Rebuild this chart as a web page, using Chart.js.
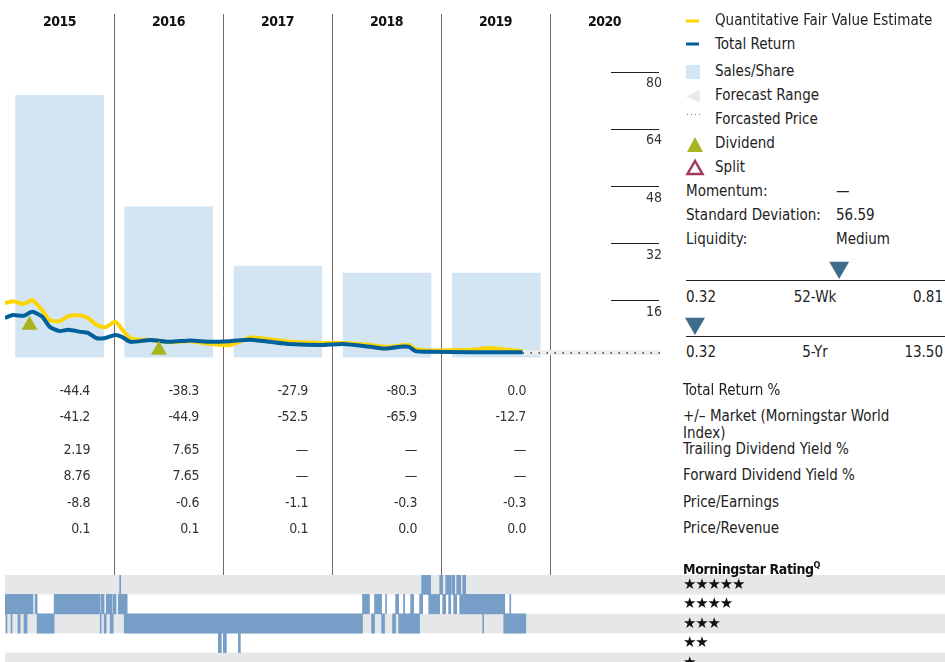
<!DOCTYPE html>
<html>
<head>
<meta charset="utf-8">
<script src="https://cdn.jsdelivr.net/npm/chart.js@4.4.1/dist/chart.umd.min.js"></script>
<style>
  body { margin: 0; width: 945px; height: 662px; overflow: hidden; background: #fff;
    font-family: "DejaVu Sans Condensed", "DejaVu Sans", sans-serif; color: #222; }
  .box { position: absolute; }
  .t { position: absolute; white-space: nowrap; line-height: 20px; }
  .yr { font-weight: bold; font-size: 14px; color: #111; width: 109px; text-align: center; letter-spacing: -0.5px; }
  .num { font-size: 14px; color: #333; width: 80px; text-align: right; letter-spacing: -0.4px; }
  .lab { font-size: 15px; color: #222; }
  .stars { font-family: "DejaVu Sans", sans-serif; font-size: 15px; color: #111; letter-spacing: -1.2px; }
</style>
</head>
<body>
<div class="box" style="left:0;top:14px;width:680px;height:561px"><canvas id="priceChart"></canvas></div>
<div class="box" style="left:0;top:575px;width:945px;height:97px"><canvas id="ratingChart"></canvas></div>
<div class="box" style="left:680px;top:255px;width:265px;height:27px"><canvas id="wkChart"></canvas></div>
<div class="box" style="left:680px;top:311px;width:265px;height:27px"><canvas id="yrChart"></canvas></div>
<svg class="box" style="left:680px;top:0" width="30" height="185">
  <rect x="6" y="19.5" width="13" height="3" fill="#fcd500"/>
  <rect x="6" y="42.5" width="13" height="3" fill="#00609c"/>
  <rect x="6" y="65" width="14" height="14" fill="#d3e4f3"/>
  <polygon points="6,96.5 20,90 20,103" fill="#e9eaec"/>
  <g fill="#777"><rect x="7" y="114" width="1" height="1"/><rect x="11" y="114" width="1" height="1"/><rect x="15" y="114" width="1" height="1"/><rect x="19" y="114" width="1" height="1"/></g>
  <polygon points="15,137 7,152 23,152" fill="#a9b520"/>
  <polygon points="15,161 7.5,174 22.5,174" fill="#fff" stroke="#a3395f" stroke-width="2.5"/>
</svg>
<div id="texts"></div>
<script>
const font = '"DejaVu Sans Condensed", "DejaVu Sans", sans-serif';

// ---- data ----
const years = ['2015', '2016', '2017', '2018', '2019', '2020'];
const salesPerShare = [73.4, 42.1, 25.5, 23.6, 23.6];
const priceTicks = [16, 32, 48, 64, 80];

const lineDates = [2015.00, 2015.07, 2015.17, 2015.25, 2015.34, 2015.41, 2015.50, 2015.58, 2015.69, 2015.76,
  2015.84, 2015.92, 2016.01, 2016.07, 2016.15, 2016.33, 2016.51, 2016.70, 2016.88, 2017.06,
  2017.25, 2017.43, 2017.61, 2017.89, 2018.10, 2018.35, 2018.49, 2018.62, 2018.70, 2018.76,
  2018.90, 2019.27, 2019.45, 2019.63, 2019.74];
const fairValue = [15.1, 15.7, 14.9, 16.0, 13.2, 10.4, 10.1, 11.5, 11.7, 11.0,
  9.0, 8.4, 9.9, 7.9, 5.2, 4.8, 4.2, 4.5, 3.7, 3.4,
  5.5, 5.0, 4.3, 4.0, 4.0, 3.4, 2.9, 3.3, 3.4, 2.3,
  1.9, 2.1, 2.6, 2.0, 1.7];
const totalReturn = [11.0, 11.8, 11.6, 12.7, 11.4, 8.5, 7.3, 7.7, 7.1, 6.8,
  5.3, 5.4, 6.2, 5.7, 4.3, 4.8, 4.3, 4.7, 4.3, 4.5,
  4.9, 4.3, 3.7, 3.4, 3.7, 2.9, 2.4, 2.9, 2.9, 1.7,
  1.5, 1.4, 1.4, 1.4, 1.4];

const forecastDates = [2019.74, 2021.0];
const forecastPrice = [1.2, 1.2];
const forecastHigh = [2.0, 2.0];
const forecastLow = [0.6, 0.6];

const dividendDates = [2015.225, 2016.41];
const dividendMarks = [9.0, 2.0];

const totalReturnPct = ['-44.4', '-38.3', '-27.9', '-80.3', '0.0'];
const marketPct = ['-41.2', '-44.9', '-52.5', '-65.9', '-12.7'];
const trailingYield = ['2.19', '7.65', '—', '—', '—'];
const forwardYield = ['8.76', '7.65', '—', '—', '—'];
const priceEarnings = ['-8.8', '-0.6', '-1.1', '-0.3', '-0.3'];
const priceRevenue = ['0.1', '0.1', '0.1', '0.0', '0.0'];
const tableLabels = ['Total Return %', '+/\u2013 Market (Morningstar World Index)', 'Trailing Dividend Yield %',
  'Forward Dividend Yield %', 'Price/Earnings', 'Price/Revenue'];

const ratingRows = ['★★★★★', '★★★★', '★★★', '★★', '★'];
const fiveStarRuns = [[2016.050, 2016.060], [2018.817, 2018.899], [2018.982, 2019.009], [2019.037, 2019.083],
  [2019.092, 2019.119], [2019.138, 2019.174], [2019.193, 2019.220]];
const fourStarRuns = [[2015.000, 2015.257], [2015.275, 2015.294], [2015.450, 2015.872], [2015.881, 2015.908],
  [2015.927, 2015.982], [2015.991, 2016.018], [2016.037, 2016.119], [2018.275, 2018.339], [2018.385, 2018.450],
  [2018.486, 2018.495], [2018.578, 2018.606], [2018.651, 2018.661], [2018.716, 2018.743], [2018.798, 2018.826],
  [2018.881, 2018.982], [2019.009, 2019.037], [2019.064, 2019.083], [2019.110, 2019.138], [2019.165, 2019.578],
  [2019.624, 2019.633]];
const threeStarRuns = [[2015.009, 2015.018], [2015.055, 2015.064], [2015.119, 2015.138], [2015.174, 2015.202],
  [2015.294, 2015.450], [2015.872, 2015.881], [2015.908, 2015.927], [2015.963, 2015.991], [2016.092, 2018.275],
  [2018.358, 2018.385], [2018.450, 2018.477], [2018.550, 2018.578], [2018.606, 2018.798], [2019.376, 2019.385],
  [2019.569, 2019.771]];
const twoStarRuns = [[2016.954, 2016.982], [2017.000, 2017.028], [2017.138, 2017.156]];
const oneStarRuns = [];

const momentum = '—';
const stdDev = '56.59';
const liquidity = 'Medium';
const wkLow = 0.32, wkHigh = 0.81, wkMarker = 0.612;
const fiveLow = 0.32, fiveHigh = 13.50, fiveMarker = 0.78;

// ---- text ----
const texts = document.getElementById('texts');
function put(html, cls, left, centerY, extra) {
  const d = document.createElement('div');
  d.className = 't ' + cls;
  d.style.left = left + 'px';
  d.style.top = (centerY - 10) + 'px';
  if (extra) Object.assign(d.style, extra);
  d.innerHTML = html;
  texts.appendChild(d);
}
years.forEach((y, i) => put(y, 'yr', 5 + i * 109, 21));
const tableRows = [totalReturnPct, marketPct, trailingYield, forwardYield, priceEarnings, priceRevenue];
const rowY = [390, 416, 449, 475, 502, 528];
tableRows.forEach((row, r) => {
  row.forEach((v, i) => put(v, 'num', 10 + i * 109, rowY[r]));
});
tableLabels.forEach((l, r) => {
  if (r === 1) put(l, 'lab', 683, rowY[r], { whiteSpace: 'normal', width: '225px', lineHeight: '17px', top: (rowY[r] - 8.5) + 'px' });
  else put(l, 'lab', 683, rowY[r]);
});
['Quantitative Fair Value Estimate', 'Total Return', 'Sales/Share', 'Forecast Range', 'Forcasted Price', 'Dividend', 'Split']
  .forEach((l, i) => put(l, 'lab', 715, [20, 44, 71, 95, 119, 143, 167][i]));
[['Momentum:', momentum], ['Standard Deviation:', stdDev], ['Liquidity:', liquidity]].forEach((p, i) => {
  put(p[0], 'lab', 686, 191 + i * 24);
  put(p[1], 'lab', 836, 191 + i * 24);
});
[[wkLow, '52-Wk', wkHigh, 297], [fiveLow, '5-Yr', fiveHigh, 352]].forEach(p => {
  put(p[0].toFixed(2), 'lab', 686, p[3]);
  put(p[1], 'lab', 765, p[3], { width: '100px', textAlign: 'center' });
  put(p[2].toFixed(2), 'lab', 843, p[3], { width: '100px', textAlign: 'right' });
});
put('Morningstar Rating<sup style="font-size:9px">Q</sup>', 'lab', 683, 565, { fontWeight: 'bold', fontSize: '14px', color: '#111', letterSpacing: '-0.4px' });
ratingRows.forEach((s, i) => put(s, 'stars', 683, 584 + i * 19.4));

// ---- price chart ----
const tickRules = {
  id: 'tickRules',
  afterDraw(chart) {
    const { ctx, chartArea, scales: { y } } = chart;
    ctx.save();
    ctx.strokeStyle = '#222';
    ctx.lineWidth = 1;
    y.ticks.forEach(t => {
      const py = Math.round(y.getPixelForValue(t.value)) + 0.5;
      ctx.beginPath();
      ctx.moveTo(chartArea.right - 49, py);
      ctx.lineTo(chartArea.right - 1, py);
      ctx.stroke();
    });
    ctx.restore();
  }
};

const pts = (xs, ys) => xs.map((x, i) => ({ x: x, y: ys[i] }));

new Chart(document.getElementById('priceChart'), {
  type: 'bar',
  data: {
    datasets: [
      { type: 'line', label: 'Forecast Range', data: pts(forecastDates, forecastHigh), borderWidth: 0, pointRadius: 0,
        fill: '+1', backgroundColor: '#eceef0', order: 8 },
      { type: 'line', label: 'Forecast Low', data: pts(forecastDates, forecastLow), borderWidth: 0, pointRadius: 0, order: 8 },
      { type: 'bar', label: 'Sales/Share', data: salesPerShare.map((v, i) => ({ x: +years[i] + 0.5, y: v })),
        backgroundColor: '#d3e4f3', barThickness: 88, order: 10 },
      { type: 'line', label: 'Quantitative Fair Value Estimate', data: pts(lineDates, fairValue), borderColor: '#fcd500',
        borderWidth: 4, pointRadius: 0, tension: 0.2, borderJoinStyle: 'round', order: 4 },
      { type: 'line', label: 'Total Return', data: pts(lineDates, totalReturn), borderColor: '#00609c',
        borderWidth: 4, pointRadius: 0, tension: 0.2, borderJoinStyle: 'round', order: 3 },
      { type: 'line', label: 'Forcasted Price', data: pts(forecastDates, forecastPrice), borderColor: '#333',
        borderWidth: 1.5, borderDash: [1.5, 6.5], pointRadius: 0, order: 2 },
      { type: 'line', label: 'Dividend', data: pts(dividendDates, dividendMarks), showLine: false, pointStyle: 'triangle',
        pointRadius: 9.2, backgroundColor: '#a9b520', borderWidth: 0, order: 1 }
    ]
  },
  options: {
    animation: false,
    responsive: true,
    maintainAspectRatio: false,
    layout: { autoPadding: false, padding: { left: 5, right: 20, top: 0, bottom: 0 } },
    plugins: { legend: { display: false }, tooltip: { enabled: false } },
    scales: {
      x: {
        type: 'linear', min: 2015, max: 2021, offset: false,
        afterBuildTicks: a => { a.ticks = [2016, 2017, 2018, 2019, 2020].map(v => ({ value: v })); },
        grid: { color: '#6a6a6a', lineWidth: 1, drawTicks: false, offset: false },
        border: { display: false },
        ticks: { display: false }
      },
      y: {
        position: 'right', min: -61.03, max: 96.16,
        afterBuildTicks: a => { a.ticks = priceTicks.map(v => ({ value: v })); },
        afterFit: s => { s.width = 0; s.paddingTop = 0; s.paddingBottom = 0; },
        grid: { display: false, drawTicks: false },
        border: { display: false },
        ticks: { mirror: true, padding: 2, labelOffset: 12, color: '#333', font: { family: font, size: 14 } }
      }
    }
  },
  plugins: [tickRules]
});

// ---- rating chart ----
const rowBands = {
  id: 'rowBands',
  beforeDatasetsDraw(chart) {
    const { ctx, chartArea, scales: { y } } = chart;
    const h = (chartArea.bottom - chartArea.top) / ratingRows.length;
    ctx.save();
    ctx.fillStyle = '#e6e7e8';
    ratingRows.forEach((r, i) => {
      if (i % 2 === 0) ctx.fillRect(chartArea.left, y.getPixelForValue(i) - h / 2, chart.width - chartArea.left, h);
    });
    ctx.restore();
  }
};
const allRuns = [fiveStarRuns, fourStarRuns, threeStarRuns, twoStarRuns, oneStarRuns];
new Chart(document.getElementById('ratingChart'), {
  type: 'bar',
  data: {
    datasets: [{
      label: 'Morningstar Rating',
      data: allRuns.flatMap((runs, i) => runs.map(r => ({ y: ratingRows[i], x: r }))),
      backgroundColor: '#779ec6',
      borderWidth: 0,
      barPercentage: 1,
      categoryPercentage: 1
    }]
  },
  options: {
    indexAxis: 'y',
    animation: false,
    responsive: true,
    maintainAspectRatio: false,
    layout: { padding: { left: 5, right: 285, top: 0, bottom: 0 } },
    plugins: { legend: { display: false }, tooltip: { enabled: false } },
    scales: {
      x: { type: 'linear', min: 2015, max: 2021, display: false },
      y: { type: 'category', labels: ratingRows, display: false }
    }
  },
  plugins: [rowBands]
});

// ---- range markers (line drawn as the x axis border) ----
const rangeLine = {
  id: 'rangeLine',
  afterDraw(chart) {
    const { ctx, chartArea } = chart;
    ctx.save();
    ctx.strokeStyle = '#222';
    ctx.lineWidth = 1;
    ctx.beginPath();
    ctx.moveTo(chartArea.left, chartArea.bottom + 0.5);
    ctx.lineTo(chart.width, chartArea.bottom + 0.5);
    ctx.stroke();
    ctx.restore();
  }
};
function rangeChart(id, low, high, marker) {
  new Chart(document.getElementById(id), {
    type: 'scatter',
    data: { datasets: [{ data: [{ x: marker, y: 0.5 }], pointStyle: 'triangle', rotation: 180,
      pointRadius: 11.5, backgroundColor: '#3f6b8c', borderWidth: 0, clip: false }] },
    options: {
      animation: false,
      responsive: true,
      maintainAspectRatio: false,
      layout: { autoPadding: false, padding: { left: 6, right: 2, top: 0, bottom: 2 } },
      plugins: { legend: { display: false }, tooltip: { enabled: false } },
      scales: {
        x: { type: 'linear', min: low, max: high, display: false },
        y: { min: 0, max: 1, display: false }
      }
    },
    plugins: [rangeLine]
  });
}
rangeChart('wkChart', wkLow, wkHigh, wkMarker);
rangeChart('yrChart', fiveLow, fiveHigh, fiveMarker);
</script>
</body>
</html>
